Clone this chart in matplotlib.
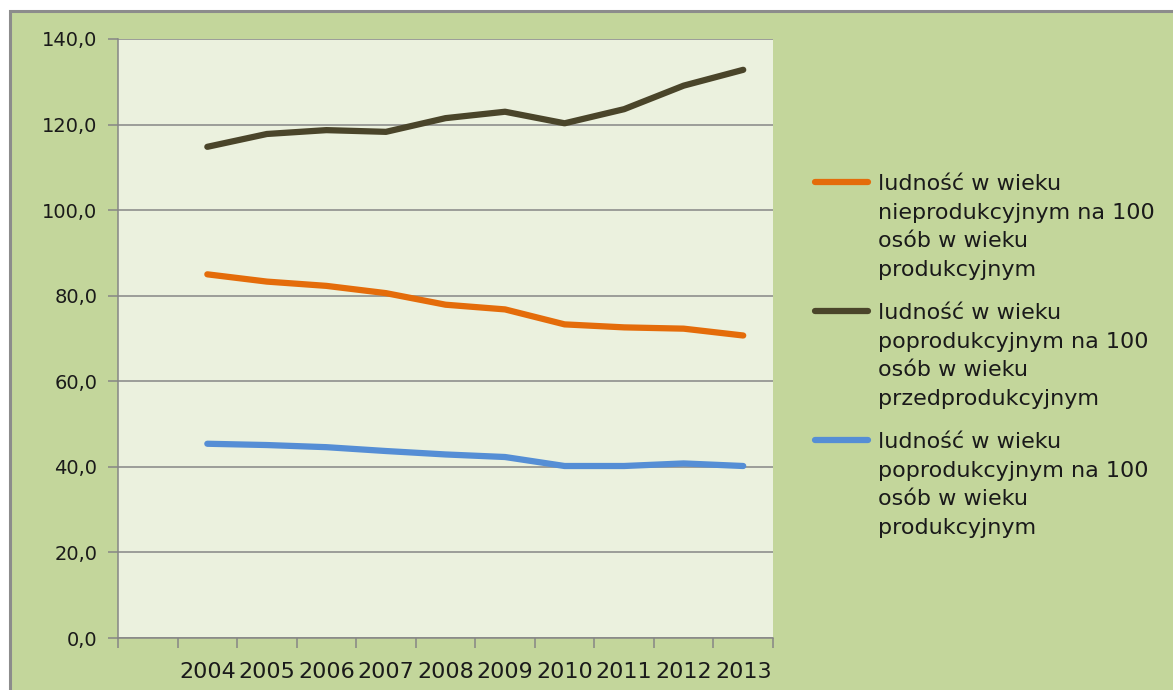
import matplotlib.pyplot as plt
from matplotlib.patches import Rectangle
from matplotlib.lines import Line2D
from matplotlib.ticker import FuncFormatter, FixedLocator

# data
years = ['2004', '2005', '2006', '2007', '2008', '2009', '2010', '2011', '2012', '2013']
nieprod_na_prod = [85.0, 83.3, 82.3, 80.6, 77.9, 76.8, 73.3, 72.6, 72.3, 70.7]
poprod_na_przedprod = [114.8, 117.8, 118.7, 118.3, 121.5, 123.0, 120.3, 123.6, 129.1, 132.8]
poprod_na_prod = [45.4, 45.1, 44.6, 43.7, 42.9, 42.3, 40.2, 40.2, 40.8, 40.2]

labels = [
    "ludność w wieku\nnieprodukcyjnym na 100\nosób w wieku\nprodukcyjnym",
    "ludność w wieku\npoprodukcyjnym na 100\nosób w wieku\nprzedprodukcyjnym",
    "ludność w wieku\npoprodukcyjnym na 100\nosób w wieku\nprodukcyjnym",
]
colors = ['#E46C0A', '#4A452A', '#558ED5']

plt.rcParams['font.family'] = ['DejaVu Sans']
W, H = 1173, 690

fig = plt.figure(figsize=(W / 100, H / 100), dpi=100)
fig.patch.set_facecolor('white')

# green chart area with grey frame on top/left
bg = Rectangle((10 / W, -0.01), 1.02, (679 / H) + 0.01,
               transform=fig.transFigure, facecolor='#C3D69B',
               edgecolor='#8C8C8C', linewidth=2.2, zorder=-10)
fig.patches.append(bg)

ax = fig.add_axes([118 / W, 52 / H, 655 / W, 599 / H])
ax.set_facecolor('#EBF1DE')

# first category slot is empty in the original
x = list(range(1, len(years) + 1))
series = [nieprod_na_prod, poprod_na_przedprod, poprod_na_prod]
for vals, col in zip(series, colors):
    ax.plot(x, vals, color=col, lw=4.5, solid_capstyle='round',
            solid_joinstyle='round', zorder=3)

ax.set_xlim(-0.5, len(years) + 0.5)
ax.set_ylim(0, 140)
ax.set_yticks(range(0, 141, 20))
ax.yaxis.set_major_formatter(FuncFormatter(lambda v, p: f"{v:.1f}".replace('.', ',')))
ax.grid(axis='y', color='#868686', lw=1.1, zorder=1)

ax.xaxis.set_major_locator(FixedLocator([i - 0.5 for i in range(len(years) + 2)]))
ax.xaxis.set_ticklabels([])
ax.xaxis.set_minor_locator(FixedLocator(x))
ax.xaxis.set_ticklabels(years, minor=True)
ax.tick_params(axis='x', which='minor', length=0, labelsize=16, pad=17,
               labelcolor='#1a1a1a')
ax.tick_params(axis='x', which='major', length=7, width=1.1, color='#868686')
ax.tick_params(axis='y', length=7, width=1.1, color='#868686', labelsize=14,
               pad=8, labelcolor='#1a1a1a')

for s in ['top', 'right']:
    ax.spines[s].set_visible(False)
for s in ['left', 'bottom']:
    ax.spines[s].set_color('#868686')
    ax.spines[s].set_linewidth(1.1)

# legend, Excel style: handle level with the first line of each label
entry_top = [182, 311, 440]
line_step = 28.7
for lab, col, y0 in zip(labels, colors, entry_top):
    fig.add_artist(Line2D([815 / W, 868 / W], [1 - y0 / H] * 2, color=col,
                          lw=4.5, solid_capstyle='round'))
    for k, row in enumerate(lab.split('\n')):
        fig.text(878 / W, 1 - (y0 + k * line_step) / H, row, fontsize=16,
                 va='center_baseline', ha='left', color='#1a1a1a')

fig.savefig('out.png', dpi=100)
